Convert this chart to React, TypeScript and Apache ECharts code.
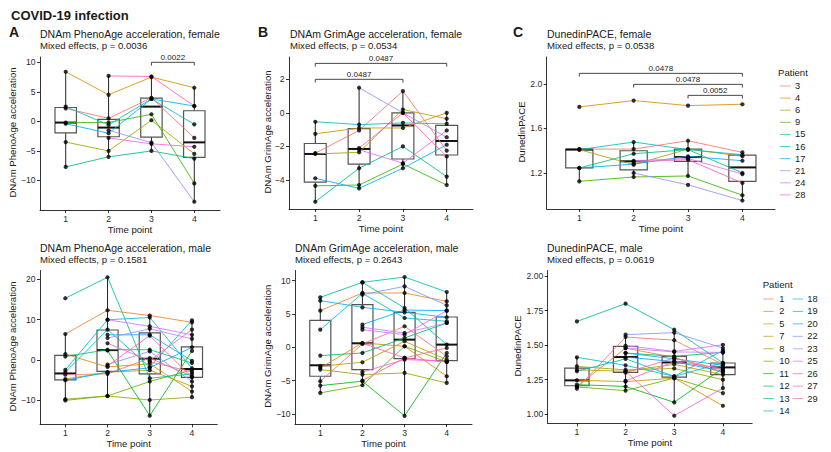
import React, { useEffect, useRef } from "react";
import * as echarts from "echarts";

// ---------- data ----------
const TIME_POINTS = [1, 2, 3, 4];
const FEMALE_IDS = [3, 4, 6, 9, 15, 16, 17, 21, 24, 28];
const MALE_IDS = [1, 2, 5, 7, 8, 10, 11, 12, 13, 14, 18, 19, 20, 22, 23, 25, 26, 27, 29];

// rows follow FEMALE_IDS / MALE_IDS, columns follow TIME_POINTS
const PHENO_F = [
  [2.2, 0.5, 4.0, -2.8],
  [8.4, 4.5, 7.5, 5.7],
  [-3.5, -5.0, 0.2, -5.5],
  [-0.2, -0.2, 1.2, -10.5],
  [-7.7, -6.0, -5.0, -6.3],
  [2.5, -0.6, 3.8, -0.5],
  [-0.4, -2.0, 3.8, 2.6],
  [null, -1.5, -3.6, -13.6],
  [null, -2.8, -3.8, -4.3],
  [null, 7.7, 7.6, 2.6],
];
const GRIM_F = [
  [-2.4, -1.05, 1.3, -2.25],
  [-1.25, -0.9, -0.9, 0.0],
  [-2.45, -2.35, 0.2, -0.35],
  [-4.35, -4.3, -3.05, -4.3],
  [-5.3, -3.3, -2.0, -3.8],
  [-0.53, -0.7, -0.6, -0.65],
  [-3.9, -4.5, -3.3, -1.9],
  [null, 1.5, 0.0, -1.45],
  [null, -2.2, -3.0, -1.05],
  [null, -2.1, 0.0, -2.6],
];
const PACE_F = [
  [1.415, 1.415, 1.49, 1.385],
  [1.794, 1.851, 1.806, 1.818],
  [1.41, 1.275, 1.415, 1.35],
  [1.125, 1.164, 1.173, 1.0],
  [1.245, 1.373, 1.41, 1.2],
  [1.41, 1.478, 1.41, 1.364],
  [1.245, 1.28, 1.35, 1.31],
  [null, 1.2, 1.093, 0.952],
  [null, 1.31, 1.33, 1.19],
  [null, 1.3, 1.32, 1.11],
];
const PHENO_M = [
  [-3.7, -3.5, 0.4, -4.1],
  [6.4, 12.3, 11.0, 9.3],
  [1.4, -1.8, -1.0, -7.9],
  [-4.8, -3.1, -2.6, -6.6],
  [-9.8, -9.0, -10.0, -9.3],
  [-10.1, -9.0, -5.4, -2.5],
  [null, 2.3, -13.9, 2.2],
  [0.8, 2.5, 2.5, -0.8],
  [15.3, 20.5, -4.6, -3.5],
  [-3.1, 7.5, -1.8, 9.8],
  [-2.5, 9.95, 10.5, -2.1],
  [null, 6.2, 6.2, -0.25],
  [-5.1, -3.1, -2.0, 3.1],
  [null, -1.2, 2.1, -5.4],
  [null, 5.4, 7.7, 5.2],
  [null, 9.95, 8.3, 6.2],
  [null, 4.1, -0.25, 7.5],
  [null, -1.5, 6.0, -4.4],
  [null, null, -0.5, -3.0],
];
const GRIM_M = [
  [-5.1, 0.5, 3.15, -1.35],
  [5.5, 8.15, 8.15, 6.9],
  [-3.1, 0.65, 0.15, -4.35],
  [-2.85, -2.25, 0.9, -1.85],
  [-3.35, -4.1, -3.85, -5.35],
  [-6.85, -5.7, 0.15, -2.2],
  [-5.75, -5.1, -10.3, -0.85],
  [-1.25, -0.85, 1.4, 3.65],
  [7.5, 9.75, 5.9, 0.4],
  [null, 9.75, 10.55, 8.3],
  [2.65, 8.1, 4.4, 3.9],
  [7.0, 6.0, 5.25, 4.5],
  [null, 3.4, 5.6, 5.5],
  [null, 7.9, 9.15, 6.3],
  [null, 3.0, 2.15, 3.65],
  [null, 2.65, 1.9, 5.5],
  [null, -3.7, -1.85, -2.1],
  [null, 0.6, -1.6, -2.2],
  [null, -5.0, -1.6, -0.1],
];
const PACE_M = [
  [1.184, 1.558, 1.535, 1.36],
  [1.2, 1.478, 1.41, 1.3],
  [1.245, 1.235, 1.26, 1.06],
  [1.32, 1.31, 1.36, 1.285],
  [1.345, 1.32, 1.33, 1.249],
  [1.196, 1.17, 1.26, 1.152],
  [1.213, 1.2, 1.085, 1.333],
  [null, 1.442, 1.418, 1.447],
  [1.671, 1.8, 1.611, 1.37],
  [1.31, 1.4, 1.273, 1.46],
  [1.411, 1.353, 1.273, 1.37],
  [null, 1.442, 1.4, 1.353],
  [null, 1.413, 1.38, 1.31],
  [null, 1.575, 1.59, 1.478],
  [null, 1.478, 1.45, 1.447],
  [null, 1.495, 1.454, 1.502],
  [null, 1.31, 0.988, 1.188],
  [null, 1.24, 1.38, 1.33],
  [null, 1.3, 1.406, 1.32],
];

// box statistics per time point: [lower whisker, Q1, median, Q3, upper whisker]
const BOX_PHENO_F = [
  [-7.7, -1.95, -0.2, 2.35, 8.4],
  [-6.0, -2.6, -1.05, 0.33, 7.7],
  [-5.0, -2.65, 2.5, 3.95, 7.6],
  [-13.6, -6.1, -3.55, 1.8, 5.7],
];
const BOX_GRIM_F = [
  [-5.3, -4.125, -2.45, -1.825, -0.53],
  [-4.5, -3.06, -2.15, -0.94, 1.5],
  [-3.3, -2.75, -0.75, 0.0, 1.3],
  [-4.3, -2.51, -1.675, -0.75, 0.0],
];
const BOX_PACE_F = [
  [1.125, 1.245, 1.41, 1.415, 1.415],
  [1.164, 1.227, 1.305, 1.4, 1.478],
  [1.173, 1.305, 1.343, 1.415, 1.49],
  [0.952, 1.125, 1.25, 1.361, 1.385],
];
const BOX_PHENO_M = [
  [-10.1, -4.98, -3.4, 1.1, 6.4],
  [-9.0, -2.9, 2.4, 7.4, 20.5],
  [-13.9, -3.5, 0.26, 6.7, 11.0],
  [-9.3, -4.4, -2.3, 3.2, 9.8],
];
const BOX_GRIM_M = [
  [-6.85, -4.35, -2.7, 4.05, 7.5],
  [-5.7, -3.35, 0.6, 6.4, 9.75],
  [-10.3, -1.7, 1.15, 5.25, 10.55],
  [-5.35, -2.0, 0.4, 4.55, 8.3],
];
const BOX_PACE_M = [
  [1.184, 1.205, 1.244, 1.333, 1.411],
  [1.17, 1.302, 1.413, 1.49, 1.575],
  [1.085, 1.268, 1.374, 1.418, 1.611],
  [1.188, 1.285, 1.338, 1.37, 1.478],
];

// pairwise comparison brackets: [from time, to time, height]
const BRACKETS_PHENO_F = [[3, 4, 10.0]];
const BRACKET_LABELS_PHENO_F = ["0.0022"];
const BRACKETS_GRIM_F = [
  [1, 4, 2.95],
  [1, 3, 2.0],
];
const BRACKET_LABELS_GRIM_F = ["0.0487", "0.0487"];
const BRACKETS_PACE_F = [
  [1, 4, 2.096],
  [2, 4, 1.997],
  [3, 4, 1.898],
];
const BRACKET_LABELS_PACE_F = ["0.0478", "0.0478", "0.0052"];

const TICKS_PHENO_F = [-10, -5, 0, 5, 10];
const TICKS_GRIM_F = [-4, -2, 0, 2];
const TICKS_PACE_F = [1.2, 1.6, 2.0];
const TICKS_PHENO_M = [-10, 0, 10, 20];
const TICKS_GRIM_M = [-10, -5, 0, 5, 10];
const TICKS_PACE_M = [1.0, 1.25, 1.5, 1.75, 2.0];

// ---------- styling helpers ----------
const FONT = "'Liberation Sans', Arial, Helvetica, sans-serif";

function hclHex(h: number, c = 100, l = 65): string {
  const hr = (h * Math.PI) / 180;
  const U = c * Math.cos(hr);
  const V = c * Math.sin(hr);
  const WX = 95.047, WY = 100, WZ = 108.883;
  const t = WX + 15 * WY + 3 * WZ;
  const un = (4 * WX) / t, vn = (9 * WY) / t;
  const Y = WY * (l > 7.999592 ? Math.pow((l + 16) / 116, 3) : l / 903.3);
  const u = U / (13 * l) + un;
  const v = V / (13 * l) + vn;
  const X = (9 * Y * u) / (4 * v);
  const Z = -X / 3 - 5 * Y + (3 * Y) / v;
  const gam = (x: number) => (x <= 0.0031308 ? 12.92 * x : 1.055 * Math.pow(x, 1 / 2.4) - 0.055);
  const r = gam((3.240479 * X - 1.53715 * Y - 0.498535 * Z) / WY);
  const g = gam((-0.969256 * X + 1.875992 * Y + 0.041556 * Z) / WY);
  const b = gam((0.055648 * X - 0.204043 * Y + 1.057311 * Z) / WY);
  const hx = (x: number) => {
    const n = Math.round(Math.max(0, Math.min(1, x)) * 255);
    return n.toString(16).padStart(2, "0");
  };
  return "#" + hx(r) + hx(g) + hx(b);
}
function huePal(n: number): string[] {
  const out: string[] = [];
  for (let i = 0; i < n; i++) out.push(hclHex(15 + (360 * i) / n));
  return out;
}
const FEMALE_COLORS = huePal(FEMALE_IDS.length);
const MALE_COLORS = huePal(MALE_IDS.length);

type Panel = {
  rect: { left: number; top: number; width: number; height: number };
  yMin: number;
  yMax: number;
  ticks: number[];
  dec: number;
  letter?: string;
  letterX?: number;
  title: string;
  sub: string;
  titleX: number;
  titleY: number;
  ylab: string;
  ylabX: number;
  values: (number | null)[][];
  boxes: number[][];
  colors: string[];
  brackets?: number[][];
  bracketLabels?: string[];
};

const PANELS: Panel[] = [
  {
    rect: { left: 40, top: 57, width: 180, height: 153 },
    yMin: -15.0, yMax: 10.9, ticks: TICKS_PHENO_F, dec: 0,
    letter: "A", letterX: 9,
    title: "DNAm PhenoAge acceleration, female", sub: "Mixed effects, p = 0.0036",
    titleX: 40, titleY: 33.7, ylab: "DNAm PhenoAge acceleration", ylabX: 12.7,
    values: PHENO_F, boxes: BOX_PHENO_F, colors: FEMALE_COLORS,
    brackets: BRACKETS_PHENO_F, bracketLabels: BRACKET_LABELS_PHENO_F,
  },
  {
    rect: { left: 289, top: 57, width: 184, height: 152 },
    yMin: -5.73, yMax: 3.33, ticks: TICKS_GRIM_F, dec: 0,
    letter: "B", letterX: 258,
    title: "DNAm GrimAge acceleration, female", sub: "Mixed effects, p = 0.0534",
    titleX: 290, titleY: 33.7, ylab: "DNAm GrimAge acceleration", ylabX: 267,
    values: GRIM_F, boxes: BOX_GRIM_F, colors: FEMALE_COLORS,
    brackets: BRACKETS_GRIM_F, bracketLabels: BRACKET_LABELS_GRIM_F,
  },
  {
    rect: { left: 546.7, top: 57, width: 228.3, height: 152 },
    yMin: 0.876, yMax: 2.243, ticks: TICKS_PACE_F, dec: 1,
    letter: "C", letterX: 513,
    title: "DunedinPACE, female", sub: "Mixed effects, p = 0.0538",
    titleX: 547, titleY: 33.7, ylab: "DunedinPACE", ylabX: 521.7,
    values: PACE_F, boxes: BOX_PACE_F, colors: FEMALE_COLORS,
    brackets: BRACKETS_PACE_F, bracketLabels: BRACKET_LABELS_PACE_F,
  },
  {
    rect: { left: 40, top: 270.5, width: 177.3, height: 153.8 },
    yMin: -16.04, yMax: 22.19, ticks: TICKS_PHENO_M, dec: 0,
    title: "DNAm PhenoAge acceleration, male", sub: "Mixed effects, p = 0.1581",
    titleX: 40, titleY: 247.5, ylab: "DNAm PhenoAge acceleration", ylabX: 12,
    values: PHENO_M, boxes: BOX_PHENO_M, colors: MALE_COLORS,
  },
  {
    rect: { left: 295, top: 270.5, width: 177, height: 153.5 },
    yMin: -11.52, yMax: 11.53, ticks: TICKS_GRIM_M, dec: 0,
    title: "DNAm GrimAge acceleration, male", sub: "Mixed effects, p = 0.2643",
    titleX: 295, titleY: 247.5, ylab: "DNAm GrimAge acceleration", ylabX: 267,
    values: GRIM_M, boxes: BOX_GRIM_M, colors: MALE_COLORS,
  },
  {
    rect: { left: 547.7, top: 270.5, width: 204.4, height: 152.8 },
    yMin: 0.933, yMax: 2.04, ticks: TICKS_PACE_M, dec: 2,
    title: "DunedinPACE, male", sub: "Mixed effects, p = 0.0619",
    titleX: 547, titleY: 247.5, ylab: "DunedinPACE", ylabX: 517,
    values: PACE_M, boxes: BOX_PACE_M, colors: MALE_COLORS,
  },
];

const BOX_WIDTH = 0.5;
const TEXT_DARK = "#1a1a1a";
const TICK_TEXT = "#2b2b2b";

function fmt(v: number, dec: number) {
  const s = Math.abs(v).toFixed(dec);
  return v < -1e-9 ? "\u2212" + s : s;
}

function buildOption() {
  const grids: any[] = [];
  const xAxes: any[] = [];
  const yAxes: any[] = [];
  const series: any[] = [];
  const graphics: any[] = [];

  const txt = (x: number, y: number, text: string, size: number, extra: any = {}) => ({
    type: "text",
    x,
    y,
    silent: true,
    rotation: extra.rotation || 0,
    style: {
      text,
      fontSize: size,
      fontFamily: FONT,
      fontWeight: extra.bold ? "bold" : "normal",
      fill: extra.fill || TEXT_DARK,
      align: extra.align || "left",
      verticalAlign: "middle",
    },
  });

  graphics.push(txt(11, 15.3, "COVID-19 infection", 13, { bold: true }));

  PANELS.forEach((p, idx) => {
    grids.push({ ...p.rect, containLabel: false, outerBoundsMode: "none" });
    xAxes.push({
      gridIndex: idx,
      type: "value",
      min: 0.4,
      max: 4.6,
      axisLine: { show: true, onZero: false, lineStyle: { color: "#000", width: 0.8 } },
      axisTick: { show: true, length: 3, customValues: TIME_POINTS, lineStyle: { color: "#000", width: 0.8 } },
      axisLabel: { customValues: TIME_POINTS, fontSize: 8.6, color: TICK_TEXT, margin: 4.5, fontFamily: FONT },
      splitLine: { show: false },
    });
    yAxes.push({
      gridIndex: idx,
      type: "value",
      min: p.yMin,
      max: p.yMax,
      axisLine: { show: true, onZero: false, lineStyle: { color: "#000", width: 0.8 } },
      axisTick: { show: true, length: 3, customValues: p.ticks, lineStyle: { color: "#000", width: 0.8 } },
      axisLabel: {
        customValues: p.ticks,
        fontSize: 8.6,
        color: TICK_TEXT,
        margin: 4.5,
        fontFamily: FONT,
        formatter: (v: number) => fmt(v, p.dec),
      },
      splitLine: { show: false },
    });

    // boxes
    series.push({
      type: "custom",
      xAxisIndex: idx,
      yAxisIndex: idx,
      silent: true,
      z: 2,
      data: p.boxes.map((b, i) => [TIME_POINTS[i], ...b]),
      renderItem: (params: any, api: any) => {
        const x = api.value(0);
        const pLo = api.coord([x, api.value(1)]);
        const pQ1 = api.coord([x, api.value(2)]);
        const pMed = api.coord([x, api.value(3)]);
        const pQ3 = api.coord([x, api.value(4)]);
        const pHi = api.coord([x, api.value(5)]);
        const w = api.size([BOX_WIDTH, 0])[0];
        const cx = pMed[0];
        return {
          type: "group",
          children: [
            { type: "line", shape: { x1: cx, y1: pLo[1], x2: cx, y2: pQ1[1] }, style: { stroke: "#222", lineWidth: 1 } },
            { type: "line", shape: { x1: cx, y1: pQ3[1], x2: cx, y2: pHi[1] }, style: { stroke: "#222", lineWidth: 1 } },
            {
              type: "rect",
              shape: { x: cx - w / 2, y: pQ3[1], width: w, height: pQ1[1] - pQ3[1] },
              style: { fill: "none", stroke: "#555", lineWidth: 1.2 },
            },
            {
              type: "line",
              shape: { x1: cx - w / 2, y1: pMed[1], x2: cx + w / 2, y2: pMed[1] },
              style: { stroke: "#111", lineWidth: 2 },
            },
          ],
        };
      },
    });

    // patient trajectories
    p.values.forEach((row, j) => {
      const data = row
        .map((v, i) => (v === null ? null : [TIME_POINTS[i], v]))
        .filter((d) => d !== null);
      series.push({
        type: "line",
        xAxisIndex: idx,
        yAxisIndex: idx,
        silent: true,
        z: 3,
        symbol: "none",
        showSymbol: false,
        data,
        lineStyle: { color: p.colors[j], width: 1, opacity: 0.85 },
        emphasis: { disabled: true },
      });
    });

    // points
    const pts: number[][] = [];
    p.values.forEach((row) =>
      row.forEach((v, i) => {
        if (v !== null) pts.push([TIME_POINTS[i], v]);
      })
    );
    series.push({
      type: "scatter",
      xAxisIndex: idx,
      yAxisIndex: idx,
      silent: true,
      z: 4,
      symbolSize: 4.2,
      itemStyle: { color: "#000" },
      data: pts,
    });

    // brackets
    if (p.brackets) {
      const labels = p.bracketLabels || [];
      series.push({
        type: "custom",
        xAxisIndex: idx,
        yAxisIndex: idx,
        silent: true,
        z: 5,
        data: p.brackets,
        renderItem: (params: any, api: any) => {
          const a = api.coord([api.value(0), api.value(2)]);
          const b = api.coord([api.value(1), api.value(2)]);
          return {
            type: "group",
            children: [
              {
                type: "polyline",
                shape: { points: [[a[0], a[1] + 3.2], [a[0], a[1]], [b[0], b[1]], [b[0], b[1] + 3.2]] },
                style: { stroke: "#333", lineWidth: 0.9, fill: "none" },
              },
              {
                type: "text",
                x: (a[0] + b[0]) / 2,
                y: a[1] - 0.6,
                style: {
                  text: labels[params.dataIndex],
                  fontSize: 8,
                  fontFamily: FONT,
                  fill: TEXT_DARK,
                  align: "center",
                  verticalAlign: "bottom",
                },
              },
            ],
          };
        },
      });
    }

    // texts
    if (p.letter) graphics.push(txt(p.letterX as number, 32.3, p.letter, 14, { bold: true }));
    graphics.push(txt(p.titleX, p.titleY, p.title, 10.5));
    graphics.push(txt(p.titleX, p.titleY + 11.5, p.sub, 9.6));
    const cy = p.rect.top + p.rect.height / 2;
    graphics.push(txt(p.ylabX, cy - 1, p.ylab, 9.6, { rotation: Math.PI / 2, align: "center" }));
    const cx = p.rect.left + p.rect.width / 2;
    graphics.push(txt(cx, p.rect.top + p.rect.height + 19.5, "Time point", 9.6, { align: "center" }));
  });

  // legends
  const legendLine = (x1: number, x2: number, y: number, color: string) => ({
    type: "line",
    silent: true,
    shape: { x1, y1: y, x2, y2: y },
    style: { stroke: color, lineWidth: 1, opacity: 0.7 },
  });
  graphics.push(txt(778, 72, "Patient", 9.6));
  FEMALE_IDS.forEach((id, i) => {
    const y = 86 + 12.1 * i;
    graphics.push(legendLine(780, 790.7, y, FEMALE_COLORS[i]));
    graphics.push(txt(795, y, String(id), 9.3));
  });
  graphics.push(txt(762.7, 284.5, "Patient", 9.6));
  MALE_IDS.forEach((id, i) => {
    const col = i < 10 ? 0 : 1;
    const row = i < 10 ? i : i - 10;
    const y = 299 + 12.44 * row;
    const kx = col === 0 ? 763.3 : 792.7;
    const lx = col === 0 ? 779.3 : 807.3;
    graphics.push(legendLine(kx, kx + 10.3, y, MALE_COLORS[i]));
    graphics.push(txt(lx, y, String(id), 9.3));
  });

  return {
    animation: false,
    backgroundColor: "#ffffff",
    textStyle: { fontFamily: FONT },
    grid: grids,
    xAxis: xAxes,
    yAxis: yAxes,
    series,
    graphic: { elements: graphics },
  };
}

export default function App() {
  const ref = useRef<HTMLDivElement>(null);
  useEffect(() => {
    if (!ref.current) return;
    const chart = echarts.init(ref.current, undefined, { renderer: "svg" });
    chart.setOption(buildOption() as any);
    return () => chart.dispose();
  }, []);
  return (
    <div
      ref={ref}
      style={{ position: "absolute", left: 0, top: 0, width: 831, height: 452, background: "#fff" }}
    />
  );
}
